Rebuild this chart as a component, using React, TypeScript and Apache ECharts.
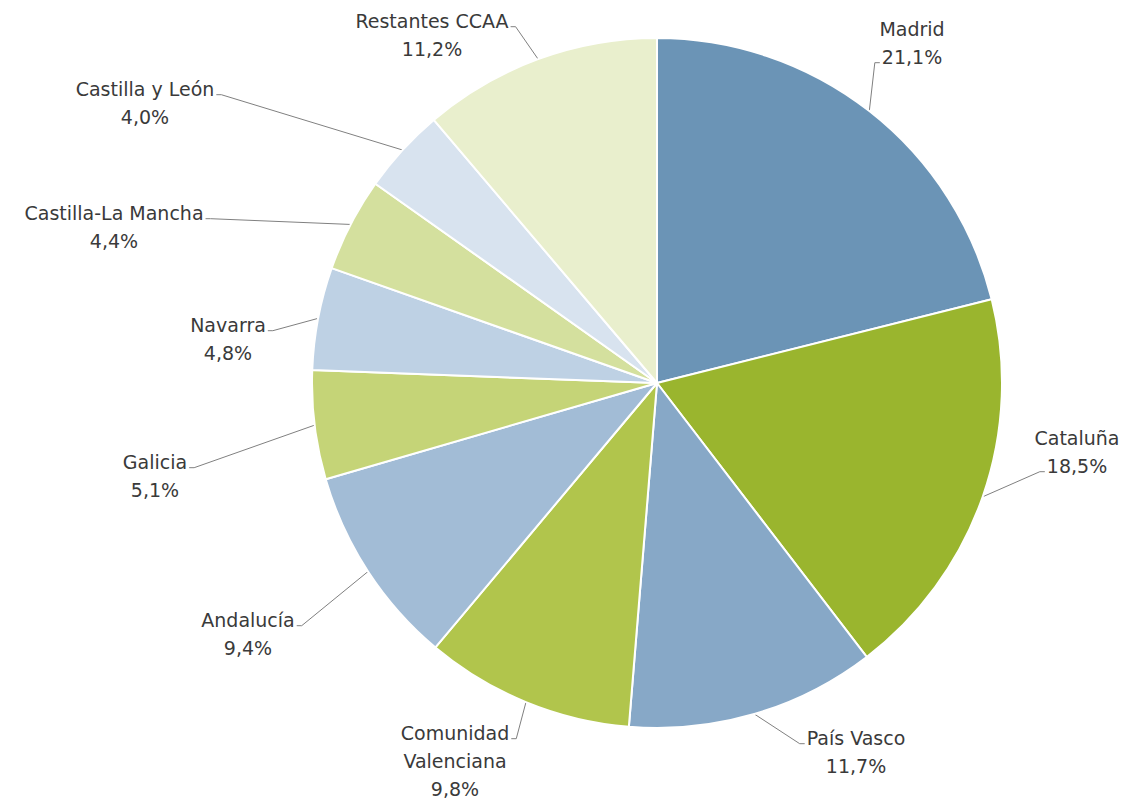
import React, { useEffect, useRef } from "react";
import * as echarts from "echarts";

const categories = [
  "Madrid",
  "Cataluña",
  "País Vasco",
  "Comunidad Valenciana",
  "Andalucía",
  "Galicia",
  "Navarra",
  "Castilla-La Mancha",
  "Castilla y León",
  "Restantes CCAA",
];
const values = [21.1, 18.5, 11.7, 9.8, 9.4, 5.1, 4.8, 4.4, 4.0, 11.2];
const colors = [
  "#6b94b6",
  "#9ab52e",
  "#87a8c7",
  "#b1c54c",
  "#a2bcd6",
  "#c5d477",
  "#bed1e4",
  "#d4e09e",
  "#d8e3ef",
  "#e9efcd",
];
// label block centres (layout only)
const labelPos: [number, number][] = [
  [912, 43],
  [1077, 452],
  [856, 752],
  [455, 761],
  [248, 634],
  [155, 476],
  [228, 339],
  [114, 227],
  [145, 103],
  [432, 35],
];
// where the leader line meets the label: [line index, side]
const anchorSpec: [number, "l" | "r"][] = [
  [1, "l"],
  [1, "l"],
  [0, "l"],
  [0, "r"],
  [0, "r"],
  [0, "r"],
  [0, "r"],
  [0, "r"],
  [0, "r"],
  [0, "r"],
];

const FONT_SIZE = 19;
const LINE_H = 28;
const FONT_FAMILY = "DejaVu Sans";

const labelText = (name: string, value: number) =>
  name.replace("Comunidad Valenciana", "Comunidad\nValenciana") +
  "\n" +
  value.toFixed(1).replace(".", ",") +
  "%";

export default function App() {
  const ref = useRef<HTMLDivElement>(null);
  useEffect(() => {
    if (!ref.current) return;
    const canvas = document.createElement("canvas");
    const ctx = canvas.getContext("2d")!;
    ctx.font = `${FONT_SIZE}px "${FONT_FAMILY}"`;

    const chart = echarts.init(ref.current, null, { renderer: "svg" });
    chart.setOption({
      animation: false,
      backgroundColor: "#ffffff",
      series: [
        {
          type: "pie",
          center: [657, 383],
          radius: [0, 345],
          startAngle: 90,
          clockwise: true,
          avoidLabelOverlap: false,
          itemStyle: { borderColor: "#ffffff", borderWidth: 2 },
          label: {
            show: true,
            position: "outside",
            fontFamily: FONT_FAMILY,
            fontSize: FONT_SIZE,
            lineHeight: LINE_H,
            color: "#3a3a3a",
            align: "center",
            formatter: (p: any) => labelText(p.name, p.value),
          },
          labelLine: {
            show: true,
            length: 10,
            length2: 10,
            lineStyle: { color: "#808080", width: 1 },
          },
          labelLayout: (params: any) => {
            const i = params.dataIndex;
            const [cx, cy] = labelPos[i];
            const lines = labelText(categories[i], values[i]).split("\n");
            const n = lines.length;
            const [li, side] = anchorSpec[i];
            const w = ctx.measureText(lines[li]).width;
            const ly = cy - ((n - 1) / 2) * LINE_H + li * LINE_H + FONT_SIZE * 0.3;
            const ex = side === "l" ? cx - w / 2 - 2 : cx + w / 2 + 2;
            const elbow = [side === "l" ? ex - 5 : ex + 5, ly];
            const p0 = params.labelLinePoints
              ? params.labelLinePoints[0]
              : [ex, ly];
            return {
              x: cx,
              y: cy,
              align: "center",
              verticalAlign: "middle",
              labelLinePoints: [p0, elbow, [ex, ly]],
            };
          },
          data: categories.map((c, i) => ({
            name: c,
            value: values[i],
            itemStyle: { color: colors[i] },
          })),
        },
      ],
    });
    return () => chart.dispose();
  }, []);
  return (
    <div
      ref={ref}
      style={{ position: "fixed", left: 0, top: 0, width: 1131, height: 804 }}
    />
  );
}
